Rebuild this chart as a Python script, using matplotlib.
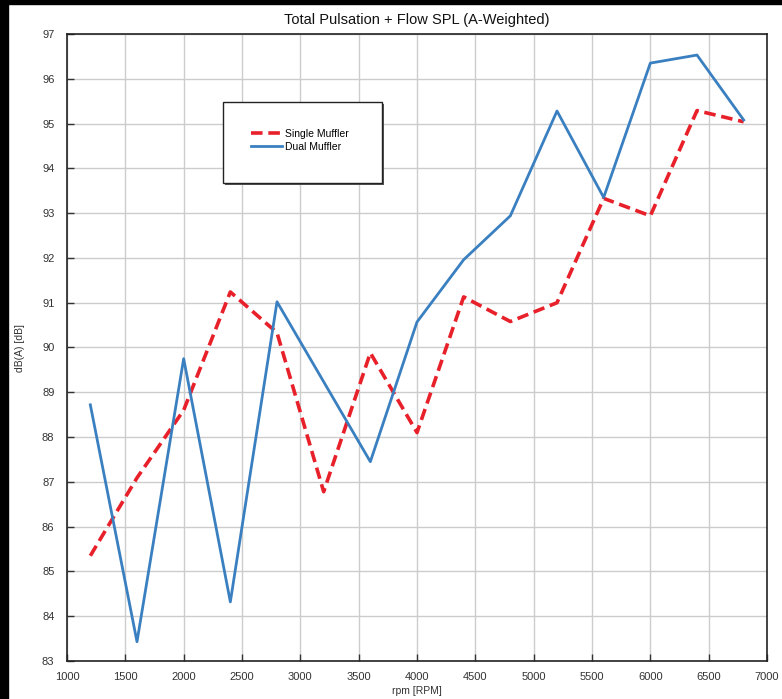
import matplotlib
matplotlib.use("Agg")
from matplotlib import pyplot as plt
from matplotlib.patches import Rectangle

plt.rcParams['font.family'] = ['Liberation Sans', 'DejaVu Sans']

# data
rpm_single = [1200, 1600, 2000, 2400, 2800, 3200, 3600, 4000, 4400, 4800, 5200, 5600, 6000, 6400, 6800]
spl_single = [85.35, 87.09, 88.6, 91.24, 90.33, 86.78, 89.88, 88.1, 91.13, 90.58, 91.0, 93.33, 92.94, 95.29, 95.04]
rpm_dual = [1200, 1600, 2000, 2400, 2800, 3600, 4000, 4400, 4800, 5200, 5600, 6000, 6400, 6800]
spl_dual = [88.72, 83.43, 89.75, 84.32, 91.02, 87.45, 90.57, 91.96, 92.94, 95.28, 93.35, 96.35, 96.53, 95.08]
x_ticks = list(range(1000, 7001, 500))
y_ticks = list(range(83, 98))

W, H = 782, 699
fig = plt.figure(figsize=(W / 100, H / 100), dpi=100)
fig.patch.set_facecolor('white')

# black strips on left and top edge
fig.patches.append(Rectangle((0, 0), 8 / W, 1, transform=fig.transFigure, color='black', zorder=0))
fig.patches.append(Rectangle((0, 1 - 4 / H), 1, 4 / H, transform=fig.transFigure, color='black', zorder=0))

ax = fig.add_axes([67 / W, 1 - 661 / H, 700 / W, 627 / H])
ax.plot(rpm_single, spl_single, color='#e8202a', lw=2.6, ls=(0, (3.2, 1.6)), label='Single Muffler', zorder=3)
ax.plot(rpm_dual, spl_dual, color='#3a80c0', lw=2.0, label='Dual Muffler', zorder=3)

ax.set_xlim(1000, 7000)
ax.set_ylim(83, 97)
ax.set_xticks(x_ticks)
ax.set_yticks(y_ticks)
ax.grid(True, color='#cccccc', lw=1.0)
ax.set_axisbelow(True)
ax.tick_params(direction='in', length=5, width=1, labelsize=8, color='#333333', labelcolor='#333333')
ax.tick_params(axis='x', pad=8)
ax.tick_params(axis='y', pad=9)
for s in ax.spines.values():
    s.set_color('#222222')
    s.set_linewidth(1.2)

ax.set_title('Total Pulsation + Flow SPL (A-Weighted)', fontsize=10.5, pad=7, color='#111111')
ax.set_xlabel('rpm [RPM]', fontsize=7.5, color='#333333', labelpad=3)
ax.set_ylabel('dB(A) [dB]', fontsize=7.5, color='#333333', labelpad=12)

# legend box with shadow
bx0, by0, bw, bh = 223 / W, 1 - 183 / H, 159 / W, 81 / H
fig.patches.append(Rectangle((bx0 + 2 / W, by0 - 2 / H), bw, bh, transform=fig.transFigure,
                             facecolor='#555555', edgecolor='none', zorder=5))
fig.patches.append(Rectangle((bx0, by0), bw, bh, transform=fig.transFigure,
                             facecolor='white', edgecolor='#222222', lw=1.0, zorder=6))
leg = fig.legend(loc='center', bbox_to_anchor=(bx0 + bw / 2 - 0.003, by0 + bh / 2 + 0.003),
                 frameon=False, fontsize=7.5, handlelength=3.0, handletextpad=0.3, labelspacing=0.3)
leg.set_zorder(7)

fig.savefig('out.png', dpi=100)
